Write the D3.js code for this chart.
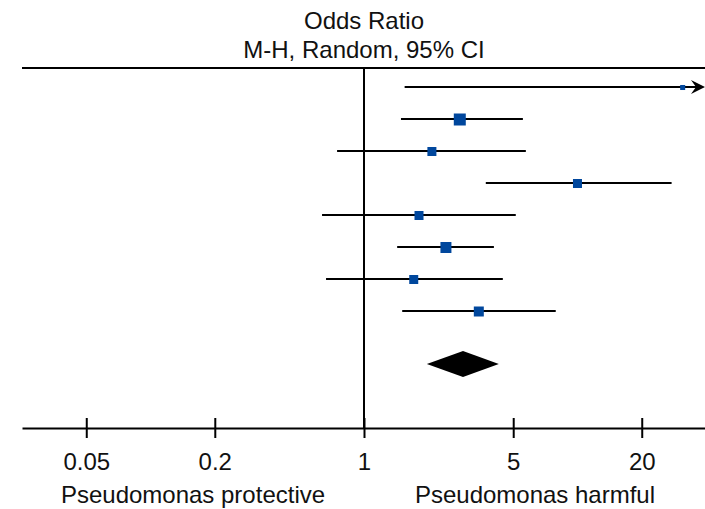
<!DOCTYPE html>
<html>
<head>
<meta charset="utf-8">
<script src="https://cdn.jsdelivr.net/npm/d3@7"></script>
<style>
  body { margin: 0; background: #fff; }
  text { font-family: "Liberation Sans", Arial, sans-serif; fill: #111; }
</style>
</head>
<body>
<div id="forest"></div>
<script>
// study estimates (odds ratio with 95% CI), top to bottom
var oddsRatio = [31.1, 2.81, 2.08, 10.0, 1.81, 2.42, 1.71, 3.45];
var lowerCI   = [1.55, 1.49, 0.748, 3.72, 0.636, 1.43, 0.664, 1.51];
var upperCI   = [120, 5.55, 5.73, 27.6, 5.14, 4.06, 4.47, 7.91];
var weights   = [2.8, 16, 9, 9, 9, 13.4, 9, 11.1];

// pooled estimate (diamond)
var pooled = { or: 2.91, lower: 1.97, upper: 4.28 };

var tickValues = [0.05, 0.2, 1, 5, 20];
var tickLabels = ['0.05', '0.2', '1', '5', '20'];

var width = 705;
var height = 509;
var fontSize = '24px';

var svg = d3.select('#forest')
    .append('svg')
    .attr('width', width)
    .attr('height', height);

var x = d3.scaleLog()
    .domain([0.025, 40])
    .range([22, 706]);

// row index -> vertical position, pooled sits lower down
var y = d3.scaleLinear()
    .domain([0, 7])
    .range([87, 311]);
var pooledRow = 8.66;

var boxSize = d3.scaleSqrt()
    .domain([0, 16])
    .range([0, 12]);

var topY = 68;
var axisY = 428;

// titles
svg.append('text')
    .attr('x', x(1))
    .attr('y', 29)
    .attr('text-anchor', 'middle')
    .style('font-size', fontSize)
    .text('Odds Ratio');

svg.append('text')
    .attr('x', x(1))
    .attr('y', 58)
    .attr('text-anchor', 'middle')
    .style('font-size', fontSize)
    .text('M-H, Random, 95% CI');

// top rule
svg.append('line')
    .attr('x1', x.range()[0]).attr('x2', x.range()[1])
    .attr('y1', topY).attr('y2', topY)
    .attr('stroke', '#000').attr('stroke-width', 2);

// line of no effect
svg.append('line')
    .attr('x1', x(1)).attr('x2', x(1))
    .attr('y1', topY).attr('y2', axisY)
    .attr('stroke', '#000').attr('stroke-width', 2);

// bottom axis
var axis = d3.axisBottom(x)
    .tickValues(tickValues)
    .tickSizeInner(10)
    .tickSizeOuter(0)
    .tickFormat(function(d, i) { return tickLabels[i]; });

var gAxis = svg.append('g')
    .attr('transform', 'translate(0,' + axisY + ')')
    .call(axis);

gAxis.select('.domain')
    .attr('stroke', '#000')
    .attr('stroke-width', 2);
gAxis.selectAll('.tick line')
    .attr('y1', -10)
    .attr('y2', 10)
    .attr('stroke', '#000')
    .attr('stroke-width', 2);
gAxis.selectAll('.tick text')
    .attr('y', 42)
    .attr('dy', 0)
    .style('font-family', '"Liberation Sans", Arial, sans-serif')
    .style('font-size', fontSize)
    .attr('fill', '#111');

// favours labels
svg.append('text')
    .attr('x', (x.range()[0] + x(1)) / 2)
    .attr('y', 503)
    .attr('text-anchor', 'middle')
    .style('font-size', fontSize)
    .text('Pseudomonas protective');

svg.append('text')
    .attr('x', (x(1) + x.range()[1]) / 2)
    .attr('y', 503)
    .attr('text-anchor', 'middle')
    .style('font-size', fontSize)
    .text('Pseudomonas harmful');

// confidence intervals
var xMax = x.domain()[1];
var studies = oddsRatio.map(function(d, i) {
    return { or: d, lower: lowerCI[i], upper: upperCI[i], w: weights[i], row: i };
});

svg.selectAll('.ci')
    .data(studies)
    .enter()
    .append('line')
    .attr('class', 'ci')
    .attr('x1', function(d) { return x(d.lower); })
    .attr('x2', function(d) { return d.upper > xMax ? x(xMax) - 5 : x(d.upper); })
    .attr('y1', function(d) { return y(d.row); })
    .attr('y2', function(d) { return y(d.row); })
    .attr('stroke', '#000')
    .attr('stroke-width', 2);

// arrow for intervals running off the scale
svg.selectAll('.arrow')
    .data(studies.filter(function(d) { return d.upper > xMax; }))
    .enter()
    .append('path')
    .attr('class', 'arrow')
    .attr('d', function(d) {
        var tx = x(xMax) - 1, ty = y(d.row);
        return 'M' + tx + ',' + ty + 'L' + (tx - 14) + ',' + (ty - 7) +
            'L' + (tx - 9) + ',' + ty + 'L' + (tx - 14) + ',' + (ty + 7) + 'Z';
    })
    .attr('fill', '#000');

// weight boxes
svg.selectAll('.box')
    .data(studies)
    .enter()
    .append('rect')
    .attr('class', 'box')
    .attr('x', function(d) { return x(d.or) - boxSize(d.w) / 2; })
    .attr('y', function(d) { return y(d.row) - boxSize(d.w) / 2 + 0.5; })
    .attr('width', function(d) { return boxSize(d.w); })
    .attr('height', function(d) { return boxSize(d.w); })
    .attr('fill', '#00479d');

// pooled diamond
var py = y(pooledRow);
svg.append('path')
    .attr('d', 'M' + x(pooled.lower) + ',' + py +
        'L' + x(pooled.or) + ',' + (py - 13) +
        'L' + x(pooled.upper) + ',' + py +
        'L' + x(pooled.or) + ',' + (py + 13) + 'Z')
    .attr('fill', '#000');
</script>
</body>
</html>
